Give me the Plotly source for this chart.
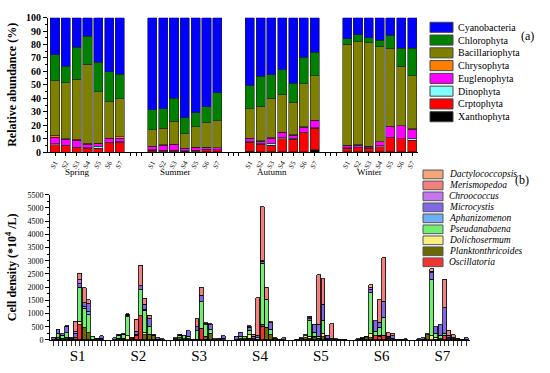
import plotly.graph_objects as go

W, H = 550, 373
SERIF = "Liberation Serif"

def px(x):
    return x / W

def py(y):
    return 1 - y / H

# ---------------- Panel (a) data: relative abundance (%) ----------------
sites = ["S1", "S2", "S3", "S4", "S5", "S6", "S7"]
seasons = ["Spring", "Summer", "Autumn", "Winter"]

# stacking order bottom -> top
phyla = ["Xanthophyta", "Crptophyta", "Dinophyta", "Euglenophyta",
         "Chrysophyta", "Bacillariophyta", "Chlorophyta", "Cyanobacteria"]
phyla_colors = ["#000000", "#FF0000", "#80FFFF", "#FF00FF",
                "#FF8000", "#808000", "#008000", "#0000FF"]

# each list: Spring S1-S7, Summer S1-S7, Autumn S1-S7, Winter S1-S7
xanthophyta = [0, 0, 0, 0, 0, 0, 0,
               0.3, 0.2, 0.2, 0.2, 0.2, 0.2, 0.2,
               0.5, 0.2, 0.2, 0.2, 0.2, 0.2, 1.7,
               0.2, 0.2, 0.2, 0.2, 0.2, 0.2, 0.2]
crptophyta = [5.5, 4.8, 3.4, 2.9, 2.9, 7.0, 7.3,
              1.0, 1.0, 1.0, 0.5, 1.0, 1.5, 1.5,
              7.0, 5.6, 5.1, 9.8, 9.2, 14.2, 16.0,
              2.7, 3.2, 2.7, 3.9, 10.4, 9.6, 8.6]
dinophyta = [0.7, 0.5, 0.3, 0.5, 1.6, 0.3, 0.4,
             0.3, 0.3, 0.3, 0.2, 0.3, 0.3, 0.2,
             0.5, 0.8, 1.2, 1.2, 1.1, 0.3, 0.3,
             0.3, 0.3, 0.2, 0.5, 0.4, 0.3, 1.0]
euglenophyta = [5.0, 4.3, 5.2, 2.4, 1.8, 2.7, 2.8,
                2.4, 3.8, 4.2, 1.8, 2.0, 1.5, 1.3,
                2.0, 1.6, 4.0, 3.4, 2.0, 3.8, 5.3,
                2.0, 1.6, 1.2, 3.0, 8.0, 9.4, 7.3]
chrysophyta = [1.3, 0.4, 0.7, 0.7, 0.2, 0.5, 0.8,
               0.5, 0.3, 0.3, 0.2, 0.3, 0.3, 0.2,
               0.3, 0.3, 0.3, 0.3, 0.3, 0.3, 0.3,
               0.1, 0.1, 0.1, 0.3, 0.2, 0.2, 0.2]
bacillariophyta = [40.5, 41.5, 44.6, 58.7, 38.3, 27.5, 28.3,
                   12.3, 12.1, 17.0, 10.8, 15.2, 18.2, 19.9,
                   21.8, 25.5, 29.2, 27.8, 24.4, 32.0, 33.2,
                   75.0, 76.6, 77.1, 70.5, 58.0, 44.3, 39.5]
chlorophyta = [19.5, 12.5, 23.8, 20.8, 22.1, 21.8, 18.4,
               14.7, 14.4, 17.0, 12.0, 10.3, 11.6, 20.8,
               17.5, 22.4, 17.5, 18.7, 14.1, 19.7, 17.5,
               4.1, 5.3, 3.6, 4.8, 9.6, 13.2, 20.4]
cyanobacteria = [27.5, 36.0, 22.0, 14.0, 33.1, 40.2, 42.0,
                 68.5, 67.9, 60.0, 74.3, 70.7, 66.4, 55.9,
                 50.4, 43.6, 42.5, 38.6, 48.7, 29.5, 25.7,
                 15.6, 12.7, 14.9, 16.8, 13.2, 22.8, 22.8]
phyla_values = [xanthophyta, crptophyta, dinophyta, euglenophyta,
                chrysophyta, bacillariophyta, chlorophyta, cyanobacteria]

# ---------------- Panel (b) data: cell density (*10^4/L) ----------------
# 12 sampling bars per site, S1..S7 ; stacking order bottom -> top
genera = ["Oscillatoria", "Planktonthricoides", "Dolichosermum", "Pseudanabaena",
          "Aphanizomenon", "Microcystis", "Chroococcus", "Merismopedoa", "Dactylococcopsis"]
genera_colors = ["#F23333", "#6A6A00", "#F8F07E", "#72EE72",
                 "#6FB0F5", "#8068E8", "#C774F2", "#F47F7F", "#F5A77A"]

oscillatoria = ([20, 20, 0, 0, 40, 100, 580, 0, 0, 0, 0, 0] +
                [0, 0, 0, 0, 40, 180, 920, 0, 0, 0, 0, 0] +
                [0, 0, 0, 0, 0, 0, 450, 30, 0, 0, 0, 0] +
                [0, 0, 0, 0, 40, 30, 520, 0, 0, 50, 0, 0] +
                [0, 0, 0, 0, 0, 60, 0, 0, 0, 0, 0, 0] +
                [0, 0, 0, 0, 150, 120, 185, 60, 0, 0, 0, 0] +
                [0, 0, 0, 0, 0, 0, 180, 0, 0, 0, 0, 0])
planktonthricoides = ([0, 60, 60, 40, 0, 0, 0, 460, 280, 30, 40, 20] +
                      [0, 60, 60, 0, 0, 40, 0, 200, 220, 180, 0, 0] +
                      [40, 80, 50, 40, 0, 20, 0, 100, 250, 0, 0, 0] +
                      [0, 40, 50, 60, 0, 0, 50, 470, 200, 30, 30, 0] +
                      [0, 40, 80, 40, 80, 0, 120, 20, 0, 40, 30, 30] +
                      [0, 60, 80, 80, 0, 50, 0, 30, 60, 30, 20, 0] +
                      [0, 30, 200, 0, 30, 50, 0, 40, 40, 70, 30, 0])
dolichosermum = ([0, 0, 0, 60, 0, 0, 120, 0, 0, 0, 0, 0] +
                 [0, 0, 0, 150, 0, 0, 0, 80, 0, 0, 0, 0] +
                 [0, 0, 0, 0, 0, 0, 0, 0, 0, 0, 0, 0] +
                 [0, 0, 0, 130, 0, 0, 30, 0, 0, 0, 0, 0] +
                 [0, 0, 80, 100, 60, 0, 140, 0, 0, 0, 0, 0] +
                 [0, 0, 40, 150, 0, 0, 0, 0, 0, 0, 0, 0] +
                 [0, 0, 0, 160, 60, 0, 0, 0, 0, 0, 0, 0])
pseudanabaena = ([0, 150, 120, 180, 0, 0, 1300, 740, 700, 100, 20, 40] +
                 [10, 120, 150, 730, 0, 0, 980, 850, 300, 40, 20, 50] +
                 [50, 100, 120, 100, 30, 330, 1000, 450, 130, 0, 0, 60] +
                 [30, 100, 80, 180, 0, 60, 2300, 1070, 200, 0, 0, 0] +
                 [0, 0, 60, 610, 150, 80, 480, 30, 60, 0, 0, 0] +
                 [0, 40, 0, 1550, 180, 300, 675, 0, 0, 0, 0, 0] +
                 [0, 0, 40, 2140, 150, 120, 60, 40, 0, 0, 0, 0])
aphanizomenon = ([0, 0, 0, 0, 0, 0, 0, 60, 100, 0, 0, 0] +
                 [0, 0, 0, 0, 0, 0, 0, 30, 0, 0, 0, 0] +
                 [0] * 12 + [0] * 12 + [0] * 12 + [0] * 12 + [0] * 12)
microcystis = ([80, 170, 60, 230, 60, 150, 150, 150, 300, 0, 0, 100] +
               [70, 30, 30, 60, 0, 100, 150, 200, 280, 0, 60, 0] +
               [0, 40, 0, 200, 0, 150, 250, 30, 200, 0, 0, 100] +
               [100, 150, 0, 100, 100, 80, 80, 0, 250, 0, 0, 80] +
               [30, 40, 0, 50, 300, 450, 620, 120, 0, 0, 0, 0] +
               [50, 0, 0, 120, 400, 200, 610, 40, 100, 0, 0, 40] +
               [40, 60, 0, 250, 250, 400, 980, 100, 40, 0, 0, 80])
chroococcus = ([0, 0, 0, 0, 0, 50, 120, 0, 0, 0, 0, 0] +
               [0] * 12 + [0] * 12 +
               [0, 0, 0, 0, 0, 0, 20, 0, 0, 0, 0, 0] +
               [0] * 12 +
               [0, 0, 0, 80, 0, 0, 0, 0, 0, 0, 0, 0] +
               [0] * 12)
merismopedoa = ([0, 0, 0, 20, 0, 400, 250, 570, 145, 0, 0, 0] +
                [0, 0, 0, 30, 60, 470, 780, 220, 140, 0, 0, 0] +
                [0, 0, 0, 0, 0, 300, 300, 40, 40, 40, 60, 0] +
                [0, 0, 0, 30, 80, 1430, 2050, 460, 30, 0, 0, 0] +
                [0, 0, 0, 40, 0, 1880, 960, 0, 560, 0, 0, 0] +
                [0, 0, 0, 0, 0, 850, 1650, 150, 100, 0, 0, 0] +
                [0, 0, 0, 50, 0, 0, 1070, 180, 120, 0, 0, 0])
dactylococcopsis = ([0] * 12 +
                    [0, 0, 0, 20, 0, 0, 0, 0, 0, 0, 0, 0] +
                    [0] * 12 +
                    [0, 0, 0, 30, 0, 0, 0, 0, 0, 0, 0, 0] +
                    [0, 0, 0, 50, 0, 0, 0, 0, 0, 0, 0, 0] +
                    [0, 0, 20, 100, 0, 0, 0, 0, 0, 0, 0, 0] +
                    [0, 0, 0, 90, 0, 0, 0, 0, 0, 0, 0, 0])
genera_values = [oscillatoria, planktonthricoides, dolichosermum, pseudanabaena,
                 aphanizomenon, microcystis, chroococcus, merismopedoa, dactylococcopsis]

N_PER_SITE = 12
SITE_STRIDE = 14
SEASON_STRIDE = 9

fig = go.Figure()

# ----- panel (a) traces
xa = [SEASON_STRIDE * s + i for s in range(len(seasons)) for i in range(len(sites))]
for name, col, vals in zip(phyla, phyla_colors, phyla_values):
    fig.add_trace(go.Bar(
        x=xa, y=[v if v > 0 else None for v in vals], name=name,
        marker=dict(color=col, line=dict(color="#202020", width=0.6)),
        width=0.84, xaxis="x", yaxis="y", showlegend=False))

# ----- panel (b) traces
xb = [SITE_STRIDE * s + m for s in range(len(sites)) for m in range(N_PER_SITE)]
for name, col, vals in zip(genera, genera_colors, genera_values):
    fig.add_trace(go.Bar(
        x=xb, y=[v if v > 0 else None for v in vals], name=name,
        marker=dict(color=col, line=dict(color="#000000", width=0.8)),
        width=0.9, xaxis="x2", yaxis="y2", showlegend=False))

# ----- axes
a_ticks = xa
a_text = sites * len(seasons)
gap_ticks = []
for s in range(len(seasons) - 1):
    b = SEASON_STRIDE * s + len(sites)
    gap_ticks += [b, b + 0.5, b + 1]

fig.update_layout(
    width=W, height=H, margin=dict(l=0, r=0, t=0, b=0),
    paper_bgcolor="white", plot_bgcolor="white",
    barmode="stack",
    font=dict(family=SERIF, color="black"),
    xaxis=dict(domain=[px(48), px(418)], range=[-0.65, 33.55],
               tickmode="array", tickvals=a_ticks, ticktext=a_text,
               tickangle=-60, tickfont=dict(size=7, family=SERIF),
               ticks="outside", ticklen=3, tickwidth=1, tickcolor="black",
               minor=dict(tickmode="array", tickvals=gap_ticks, ticks="outside",
                          ticklen=3, tickcolor="black"),
               showline=True, linecolor="black", linewidth=1,
               showgrid=False, zeroline=False, anchor="y"),
    yaxis=dict(domain=[py(151), py(12)], range=[0, 100], dtick=10,
               tickfont=dict(size=10, family=SERIF, weight="bold"),
               ticks="outside", ticklen=4, tickwidth=1, tickcolor="black",
               minor=dict(dtick=5, ticks="outside", ticklen=2, tickcolor="black"),
               showline=True, linecolor="black", linewidth=1,
               showgrid=False, zeroline=False, anchor="x",
               title=dict(text="<b>Relative abundance (%)</b>",
                          font=dict(size=12, family=SERIF), standoff=6)),
    xaxis2=dict(domain=[px(50), px(470)], range=[-0.85, 95.85],
                tickmode="array",
                tickvals=[SITE_STRIDE * s + (N_PER_SITE - 1) / 2 for s in range(len(sites))],
                ticktext=sites, tickfont=dict(size=15, family=SERIF),
                ticks="", ticklabelstandoff=2,
                minor=dict(tickmode="linear", tick0=0, dtick=1, ticks="outside",
                           ticklen=5, tickwidth=1, tickcolor="#333"),
                showline=True, linecolor="black", linewidth=1,
                showgrid=False, zeroline=False, anchor="y2"),
    yaxis2=dict(domain=[py(345), py(195)], range=[0, 5500], dtick=500,
                tickfont=dict(size=8, family=SERIF),
                ticks="outside", ticklen=4, tickwidth=1, tickcolor="black",
                minor=dict(dtick=250, ticks="outside", ticklen=2, tickcolor="black"),
                showline=True, linecolor="black", linewidth=1,
                showgrid=False, zeroline=False, anchor="x2",
                title=dict(text="<b>Cell density (*10<sup>4</sup> /L)</b>",
                           font=dict(size=12, family=SERIF), standoff=8)),
)

# ----- season labels
for s, name in enumerate(seasons):
    fig.add_annotation(x=SEASON_STRIDE * s + 3 - 0.9, y=py(172), xref="x", yref="paper",
                       text=name, showarrow=False, font=dict(size=9, family=SERIF),
                       xanchor="center", yanchor="middle")

# ----- manual legend (a)
leg_a_names = list(reversed(phyla))
leg_a_cols = list(reversed(phyla_colors))
for k, (name, col) in enumerate(zip(leg_a_names, leg_a_cols)):
    yc = 22 + 13.2 * k
    fig.add_shape(type="rect", xref="paper", yref="paper",
                  x0=px(430), x1=px(453), y0=py(yc - 5.2), y1=py(yc + 5.2),
                  fillcolor=col, line=dict(color="#444", width=1))
    fig.add_annotation(x=px(456), y=py(yc), xref="paper", yref="paper", text=name,
                       showarrow=False, xanchor="left", yanchor="middle",
                       font=dict(size=10, family=SERIF))
fig.add_annotation(x=px(536), y=py(22), xref="paper", yref="paper", text="(a)",
                   showarrow=False, font=dict(size=12, family=SERIF))

# ----- manual legend (b)
leg_b_names = list(reversed(genera))
leg_b_cols = list(reversed(genera_colors))
for k, (name, col) in enumerate(zip(leg_b_names, leg_b_cols)):
    yc = 174 + 11.35 * k
    fig.add_shape(type="rect", xref="paper", yref="paper",
                  x0=px(423), x1=px(443), y0=py(yc - 4.5), y1=py(yc + 4.5),
                  fillcolor=col, line=dict(color="#555", width=1))
    fig.add_annotation(x=px(447), y=py(yc), xref="paper", yref="paper",
                       text="<i>" + name + "</i>",
                       showarrow=False, xanchor="left", yanchor="middle",
                       font=dict(size=9.5, family=SERIF))
fig.add_annotation(x=px(531), y=py(180), xref="paper", yref="paper", text="(b)",
                   showarrow=False, font=dict(size=12, family=SERIF))

fig.write_html("out.html",
               config={"displayModeBar": False},
               post_script="document.body.style.margin='0px';document.body.style.overflow='hidden';")
